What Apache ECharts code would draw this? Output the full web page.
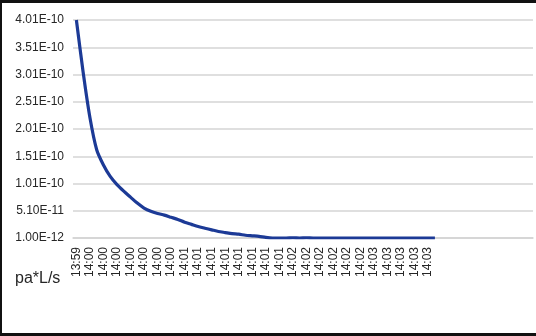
<!DOCTYPE html>
<html>
<head>
<meta charset="utf-8">
<script src="https://cdn.jsdelivr.net/npm/echarts@6/dist/echarts.min.js"></script>
<style>
html,body{margin:0;padding:0;background:#fff;}
#c{width:536px;height:336px;}
</style>
</head>
<body>
<div id="c"></div>
<script>
// category labels (every other category is labelled)
const times = [
  '13:59','13:59',
  '14:00','14:00','14:00','14:00','14:00','14:00','14:00','14:00','14:00','14:00','14:00','14:00','14:00','14:00',
  '14:01','14:01','14:01','14:01','14:01','14:01','14:01','14:01','14:01','14:01','14:01','14:01','14:01','14:01','14:01','14:01',
  '14:02','14:02','14:02','14:02','14:02','14:02','14:02','14:02','14:02','14:02','14:02','14:02',
  '14:03','14:03','14:03','14:03','14:03','14:03','14:03','14:03','14:03','14:03'
];
// empty categories after the data
const emptyCats = ['','','','','','','','','','','','','',''];
// leak rate, pa*L/s
const leakRate = [
  4.01e-10, 3.05e-10, 2.22e-10, 1.63e-10, 1.35e-10, 1.14e-10, 9.9e-11, 8.7e-11, 7.6e-11, 6.5e-11,
  5.6e-11, 5.0e-11, 4.6e-11, 4.3e-11, 3.9e-11, 3.5e-11, 3.0e-11, 2.6e-11, 2.2e-11, 1.9e-11,
  1.6e-11, 1.3e-11, 1.1e-11, 9e-12, 8e-12, 6e-12, 5e-12, 4e-12, 2e-12, 1e-12,
  1e-12, 1e-12, 1.5e-12, 1e-12, 1.5e-12, 1e-12, 1e-12, 1e-12, 1e-12, 1e-12,
  1e-12, 1e-12, 1e-12, 1e-12, 1e-12, 1e-12, 1e-12, 1e-12, 1e-12, 1e-12,
  1e-12, 1e-12, 1e-12, 1e-12
];
// y tick labels (evenly spaced ticks)
const yTickLabels = ['1.00E-12','5.10E-11','1.01E-10','1.51E-10','2.01E-10','2.51E-10','3.01E-10','3.51E-10','4.01E-10'];
const yBase = 1e-12, yStep = 5e-11;
const yUnit = 'pa*L/s';

const cats = times.concat(emptyCats);
const plotData = leakRate.map(v => (v - yBase) / yStep);

const chart = echarts.init(document.getElementById('c'), null, {renderer:'canvas'});
chart.setOption({
  animation:false,
  backgroundColor:'#fff',
  grid:{left:73,right:3,top:20,bottom:98,containLabel:false},
  xAxis:{
    type:'category',
    data:cats,
    boundaryGap:true,
    axisLine:{show:true,lineStyle:{color:'#d4d4d4',width:1.5}},
    axisTick:{show:false},
    axisLabel:{
      rotate:90,
      interval:(i,v)=> i%2===0 && v!=='' ,
      fontFamily:'Liberation Sans',
      fontSize:12,
      color:'#262626',
      margin:9
    },
    splitLine:{show:false}
  },
  yAxis:{
    type:'value',
    min:0,max:yTickLabels.length-1,interval:1,
    axisLine:{show:false},
    axisTick:{show:false},
    axisLabel:{
      formatter:v=>yTickLabels[Math.round(v)],
      fontFamily:'Liberation Sans',
      fontSize:12,
      color:'#262626',
      margin:9
    },
    splitLine:{show:true,lineStyle:{color:'#d4d4d4',width:1.5}}
  },
  series:[{
    type:'line',
    data:plotData,
    showSymbol:false,
    smooth:0.25,
    lineStyle:{color:'#1C3A96',width:3.2},
    itemStyle:{color:'#1C3A96'}
  }],
  graphic:[
    {type:'text',left:15,top:271,style:{text:yUnit,fontFamily:'Liberation Sans',fontSize:16,fill:'#262626'}},
    {type:'rect',shape:{x:0,y:0,width:536,height:3},style:{fill:'#111'}},
    {type:'rect',shape:{x:0,y:0,width:2,height:336},style:{fill:'#111'}},
    {type:'rect',shape:{x:0,y:333,width:536,height:3},style:{fill:'#111'}}
  ]
});
</script>
</body>
</html>
